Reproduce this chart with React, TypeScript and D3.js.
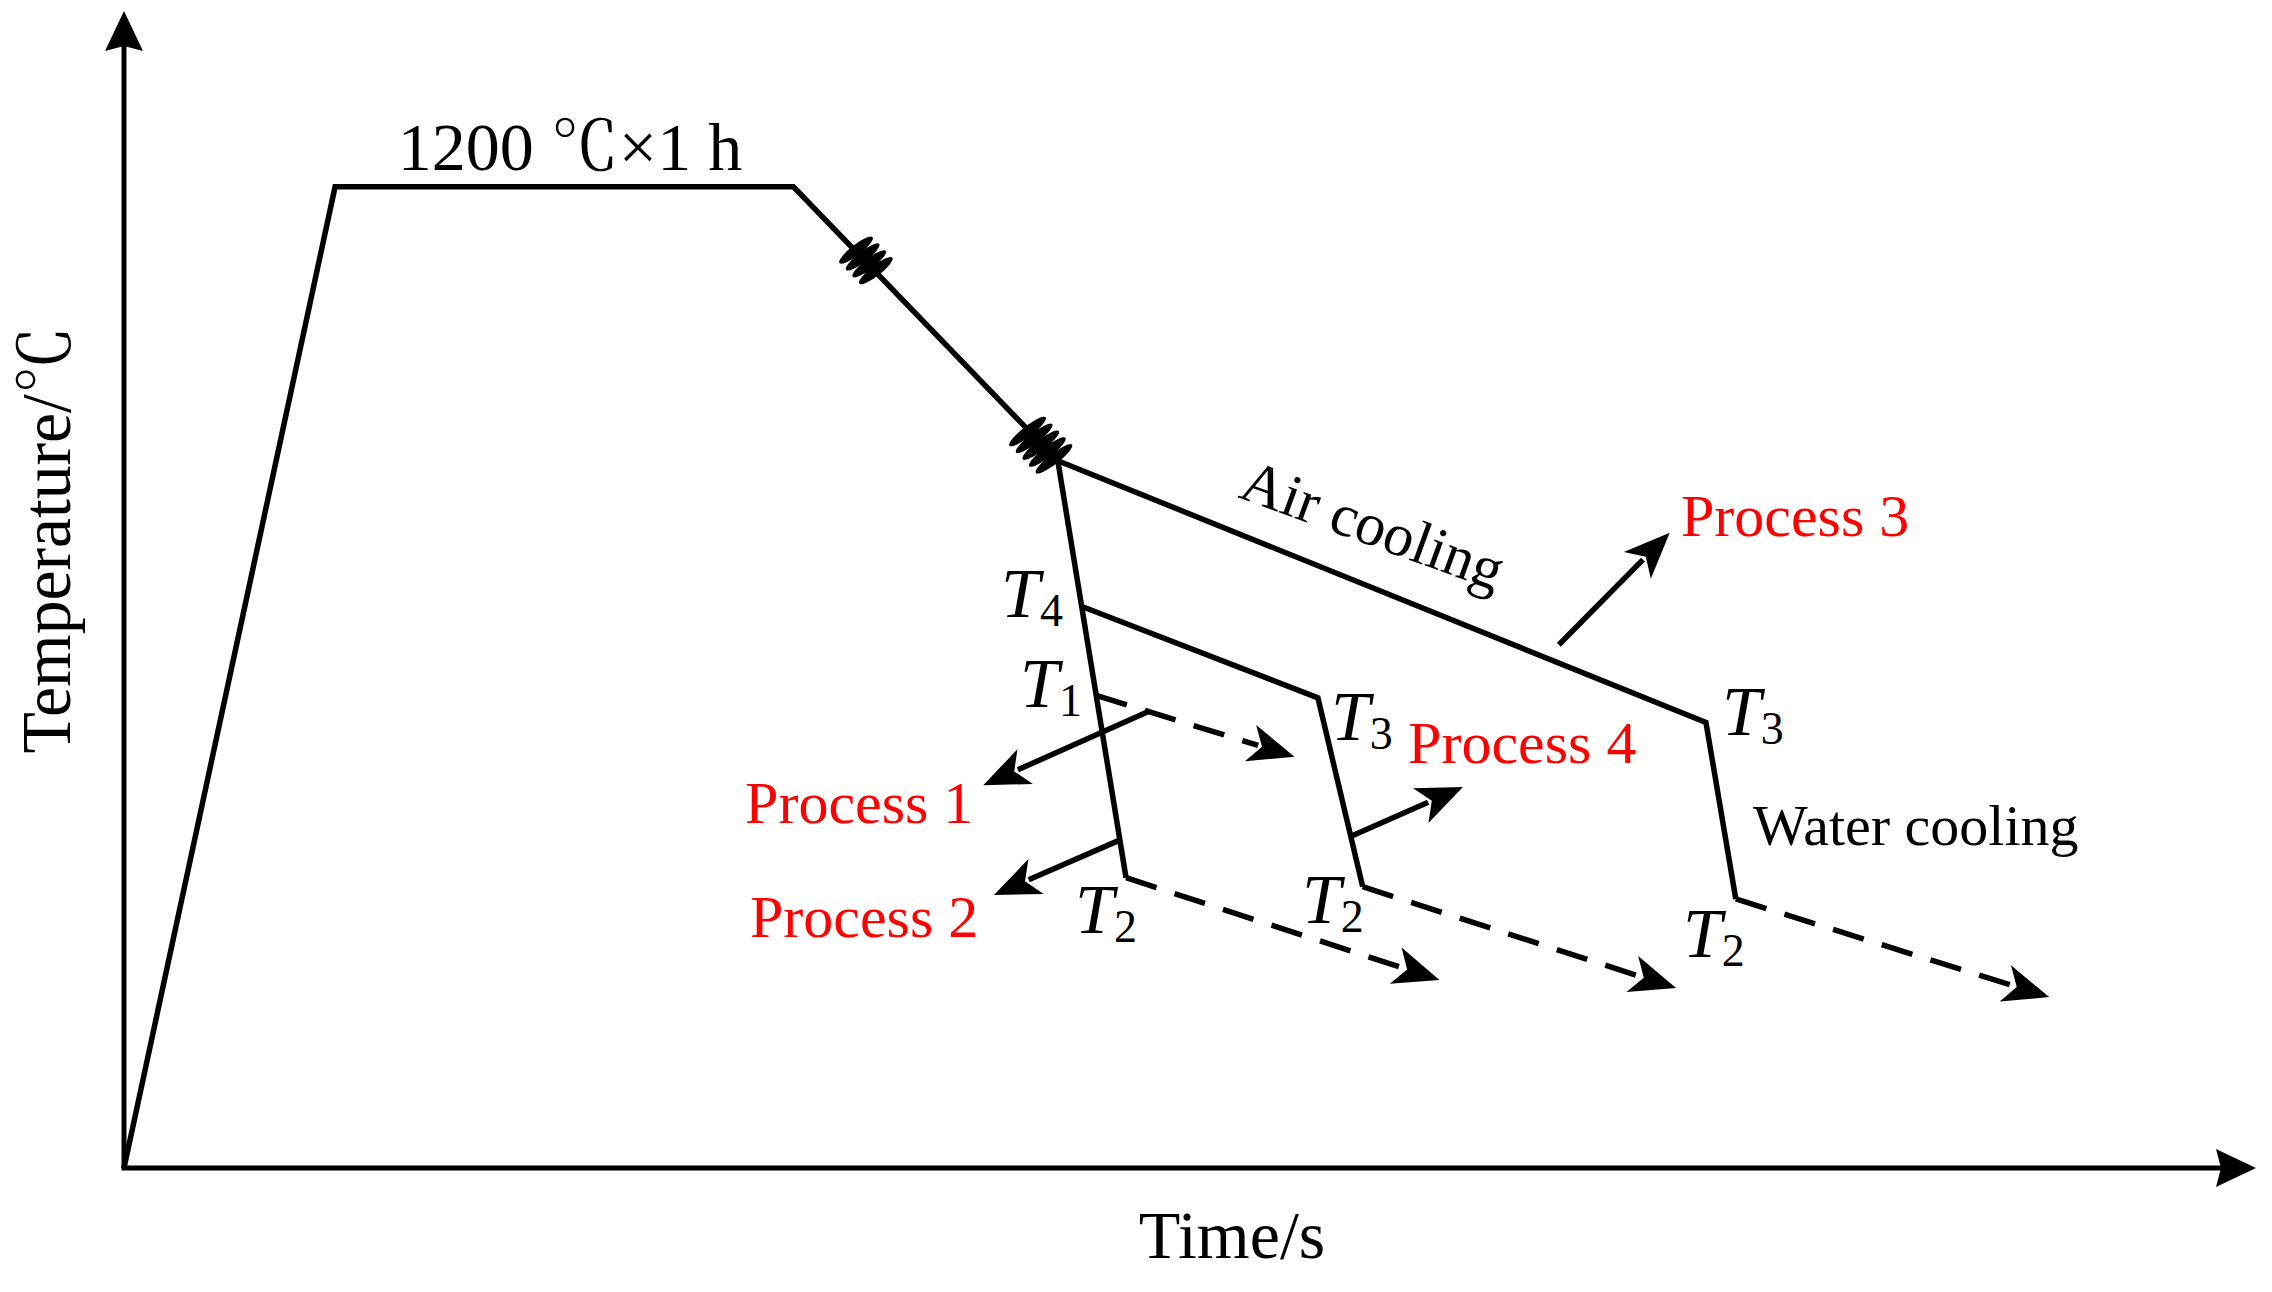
import React from "react";
import * as d3 from "d3";

// ---- schematic data (time in arbitrary units 0–1000, temperature in ℃ scale 0–1415) ----
const axisTimeMax = 1000;
const axisTempMax = 1415;

// heating → soaking at 1200 ℃ → cooling with rough/finish rolling to deformation end
const heatingPath: [number, number][] = [[0, 0], [99, 1200], [314, 1200], [438, 865]];
// air cooling branch then water cooling
const airCoolingPath: [number, number][] = [[438, 865], [742, 545], [756, 329]];
// direct water cooling branch
const directQuenchPath: [number, number][] = [[438, 865], [470, 355]];
// T4 branch: air cooling then water cooling
const t4Path: [number, number][] = [[449, 687], [560, 575], [581, 344]];
// dashed holding lines (start, arrow tip)
const dashedPaths: [number, number][][] = [
  [[456, 578], [549, 503]],
  [[470, 355], [617, 230]],
  [[581, 344], [728, 220]],
  [[756, 329], [903, 209]],
];
// process pointer arrows (start, tip)
const processArrows: [number, number][][] = [
  [[481, 559], [403, 468]],
  [[467, 401], [408, 334]],
  [[673, 640], [725, 777]],
  [[575, 405], [628, 466]],
];
// deformation coils: [time, temp, loops]
const coilCenters: [number, number, number][] = [[348, 1110, 4], [430, 884, 5]];

const processNames = ["Process 1", "Process 2", "Process 3", "Process 4"];
const processLabelAnchors: [number, number][] = [[291.3, 422], [293.6, 282.5], [730.3, 773], [602.3, 495.3]];

const tempLabelSubs = ["4", "1", "3", "2", "2", "3", "2"];
const tempLabelAnchors: [number, number][] = [
  [411.4, 674], [420.3, 564], [566.1, 523.4], [446.1, 287.4], [552.5, 299.6], [749.5, 529.6], [731.2, 258.1],
];

const soakLabel = "1200 ℃×1 h";
const airLabel = "Air cooling";
const waterLabel = "Water cooling";
const xTitle = "Time/s";
const yTitle = "Temperature/℃";

const FONT = "'Liberation Serif', 'Times New Roman', 'Noto Serif CJK SC', 'Noto Sans CJK SC', serif";

function arrowHead(tip: number[], from: number[], len: number, half: number, notch: number) {
  const dx = tip[0] - from[0], dy = tip[1] - from[1];
  const L = Math.hypot(dx, dy);
  const ux = dx / L, uy = dy / L;
  const px = -uy, py = ux;
  const bx = tip[0] - ux * len, by = tip[1] - uy * len;
  const nx = tip[0] - ux * (len - notch), ny = tip[1] - uy * (len - notch);
  return `M${tip[0]},${tip[1]} L${bx + px * half},${by + py * half} L${nx},${ny} L${bx - px * half},${by - py * half} Z`;
}

function shorten(from: number[], tip: number[], d: number): number[] {
  const dx = tip[0] - from[0], dy = tip[1] - from[1];
  const L = Math.hypot(dx, dy);
  return [tip[0] - (dx / L) * d, tip[1] - (dy / L) * d];
}

export default function App() {
  const x = d3.scaleLinear().domain([0, axisTimeMax]).range([124, 2256]);
  const y = d3.scaleLinear().domain([0, axisTempMax]).range([1168, 11]);
  const P = (d: number[]) => [x(d[0]), y(d[1])];
  const line = d3.line<number[]>().x((d) => x(d[0])).y((d) => y(d[1]));
  const pxLine = d3.line<number[]>().x((d) => d[0]).y((d) => d[1]);

  const SW = 5.5;
  const origin = P([0, 0]);
  const yTop = P([0, axisTempMax]);
  const xEnd = P([axisTimeMax, 0]);

  const segA = P(heatingPath[2]);
  const segB = P(heatingPath[3]);
  const ang = (Math.atan2(segB[1] - segA[1], segB[0] - segA[0]) * 180) / Math.PI;
  const ux = Math.cos((ang * Math.PI) / 180), uy = Math.sin((ang * Math.PI) / 180);

  return (
    <svg width={2272} height={1292} style={{ position: "absolute", left: 0, top: 0, background: "#fff" }}
      fontFamily={FONT}>
      <rect width={2272} height={1292} fill="#fff" />
      {/* axes */}
      <line x1={origin[0]} y1={origin[1]} x2={yTop[0]} y2={yTop[1] + 30} stroke="#000" strokeWidth={5} />
      <line x1={origin[0] - 2.5} y1={origin[1]} x2={xEnd[0] - 30} y2={xEnd[1]} stroke="#000" strokeWidth={5} />
      <path d={arrowHead(yTop, origin, 40, 19, 5)} fill="#000" />
      <path d={arrowHead(xEnd, origin, 40, 19, 5)} fill="#000" />

      {/* solid process paths */}
      {[heatingPath, airCoolingPath, directQuenchPath, t4Path].map((p, i) => (
        <path key={i} d={line(p) ?? ""} fill="none" stroke="#000" strokeWidth={SW} strokeLinejoin="miter" strokeMiterlimit={10} />
      ))}

      {/* deformation coils */}
      {coilCenters.map(([t, T, n], i) => {
        const c = P([t, T]);
        const spacing = 9.5;
        const rx = i === 0 ? 21 : 23;
        return (
          <g key={i}>
            {d3.range(n).map((k) => {
              const off = (k - (n - 1) / 2) * spacing;
              const cx = c[0] + ux * off, cy = c[1] + uy * off;
              return (
                <ellipse key={k} cx={cx} cy={cy} rx={rx} ry={5.2} fill="#000"
                  transform={`rotate(${ang + 96},${cx},${cy})`} />
              );
            })}
          </g>
        );
      })}

      {/* dashed holding lines */}
      {dashedPaths.map((p, i) => {
        const a = P(p[0]), b = P(p[1]);
        const end = shorten(a, b, 38);
        return (
          <g key={i}>
            <path d={pxLine([a, end]) ?? ""} stroke="#000" strokeWidth={SW} strokeDasharray="32 19" fill="none" />
            <path d={arrowHead(b, a, 46, 19, 12)} fill="#000" />
          </g>
        );
      })}

      {/* process arrows */}
      {processArrows.map((p, i) => {
        const a = P(p[0]), b = P(p[1]);
        const end = shorten(a, b, 38);
        return (
          <g key={i}>
            <path d={pxLine([a, end]) ?? ""} stroke="#000" strokeWidth={SW} fill="none" />
            <path d={arrowHead(b, a, 46, 19, 12)} fill="#000" />
          </g>
        );
      })}

      {/* process labels */}
      {processNames.map((name, i) => {
        const a = P(processLabelAnchors[i]);
        return (
          <text key={i} x={a[0]} y={a[1]} fill="#ff0000" fontSize={60}>{name}</text>
        );
      })}

      {/* temperature labels */}
      {tempLabelSubs.map((s, i) => {
        const a = P(tempLabelAnchors[i]);
        return (
          <text key={i} x={a[0]} y={a[1]} fill="#000" fontSize={70}>
            <tspan fontStyle="italic">T</tspan>
            <tspan fontSize={46} dy={9}>{s}</tspan>
          </text>
        );
      })}

      {/* annotations */}
      {(() => {
        const s = P([209.2, 1220.6]);
        return <text x={s[0]} y={s[1]} textAnchor="middle" fontSize={68}>{soakLabel}</text>;
      })()}
      {(() => {
        const s = P([522, 820.6]);
        return <text transform={`translate(${s[0]},${s[1]}) rotate(20)`} fontSize={60}>{airLabel}</text>;
      })()}
      {(() => {
        const s = P([764.1, 395]);
        return <text x={s[0]} y={s[1]} fontSize={58}>{waterLabel}</text>;
      })()}
      {(() => {
        const s = P([519.7, -110]);
        return <text x={s[0]} y={s[1]} textAnchor="middle" fontSize={68}>{xTitle}</text>;
      })()}
      <text transform={`translate(70,540) rotate(-90)`} textAnchor="middle" fontSize={70}
        textLength={427} lengthAdjust="spacingAndGlyphs">{yTitle}</text>
    </svg>
  );
}
